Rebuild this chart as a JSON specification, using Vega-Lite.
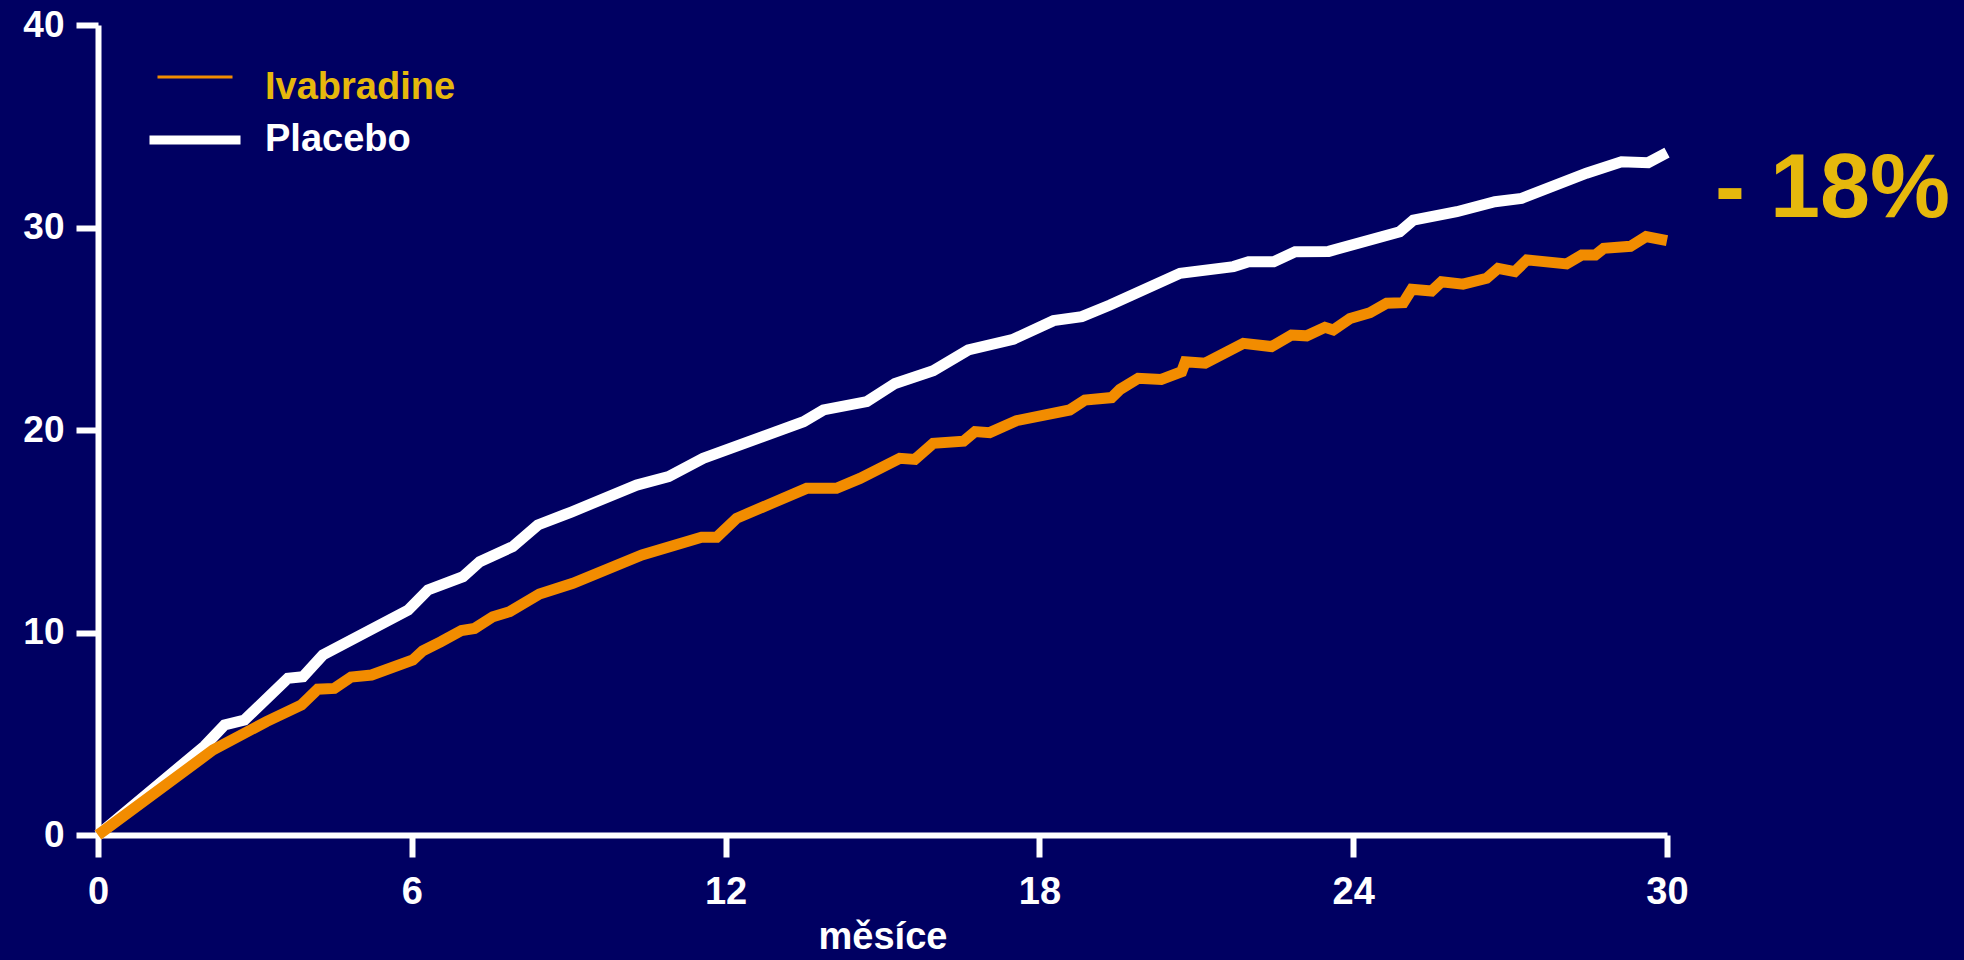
{
  "$schema": "https://vega.github.io/schema/vega-lite/v6.json",
  "width": 1569,
  "height": 810,
  "autosize": {"type": "none"},
  "padding": {"left": 98, "top": 25, "right": 297, "bottom": 125},
  "background": "#000062",
  "config": {
    "view": {"stroke": null},
    "font": "Liberation Sans",
    "axis": {
      "domainColor": "white", "domainWidth": 6, "tickColor": "white", "tickWidth": 6, "tickSize": 22,
      "labelColor": "white", "labelFontWeight": "bold", "labelFont": "Liberation Sans", "grid": false,
      "titleColor": "white", "titleFont": "Liberation Sans", "titleFontWeight": "bold"
    }
  },
  "datasets": {
    "curves": [
      {"series": "Placebo", "month": 0, "rate": 0},
      {"series": "Placebo", "month": 2.04, "rate": 4.4},
      {"series": "Placebo", "month": 2.42, "rate": 5.43},
      {"series": "Placebo", "month": 2.8, "rate": 5.68},
      {"series": "Placebo", "month": 3.63, "rate": 7.74},
      {"series": "Placebo", "month": 3.92, "rate": 7.82},
      {"series": "Placebo", "month": 4.3, "rate": 8.89},
      {"series": "Placebo", "month": 5.93, "rate": 11.11},
      {"series": "Placebo", "month": 6.31, "rate": 12.1},
      {"series": "Placebo", "month": 6.98, "rate": 12.76},
      {"series": "Placebo", "month": 7.3, "rate": 13.5},
      {"series": "Placebo", "month": 7.93, "rate": 14.24},
      {"series": "Placebo", "month": 8.41, "rate": 15.31},
      {"series": "Placebo", "month": 9.05, "rate": 15.95},
      {"series": "Placebo", "month": 10.3, "rate": 17.28},
      {"series": "Placebo", "month": 10.91, "rate": 17.7},
      {"series": "Placebo", "month": 11.57, "rate": 18.6},
      {"series": "Placebo", "month": 13.49, "rate": 20.41},
      {"series": "Placebo", "month": 13.87, "rate": 20.99},
      {"series": "Placebo", "month": 14.7, "rate": 21.4},
      {"series": "Placebo", "month": 15.24, "rate": 22.3},
      {"series": "Placebo", "month": 15.97, "rate": 22.93},
      {"series": "Placebo", "month": 16.64, "rate": 23.95},
      {"series": "Placebo", "month": 17.5, "rate": 24.48},
      {"series": "Placebo", "month": 18.27, "rate": 25.4},
      {"series": "Placebo", "month": 18.81, "rate": 25.6},
      {"series": "Placebo", "month": 19.35, "rate": 26.17},
      {"series": "Placebo", "month": 20.69, "rate": 27.74},
      {"series": "Placebo", "month": 21.71, "rate": 28.07},
      {"series": "Placebo", "month": 22.0, "rate": 28.31},
      {"series": "Placebo", "month": 22.48, "rate": 28.31},
      {"series": "Placebo", "month": 22.89, "rate": 28.8},
      {"series": "Placebo", "month": 23.53, "rate": 28.82},
      {"series": "Placebo", "month": 24.89, "rate": 29.79},
      {"series": "Placebo", "month": 25.15, "rate": 30.37},
      {"series": "Placebo", "month": 25.98, "rate": 30.78},
      {"series": "Placebo", "month": 26.71, "rate": 31.27},
      {"series": "Placebo", "month": 27.22, "rate": 31.44},
      {"series": "Placebo", "month": 28.46, "rate": 32.68},
      {"series": "Placebo", "month": 29.13, "rate": 33.25},
      {"series": "Placebo", "month": 29.64, "rate": 33.2},
      {"series": "Placebo", "month": 30, "rate": 33.7},
      {"series": "Ivabradine", "month": 0, "rate": 0},
      {"series": "Ivabradine", "month": 2.2, "rate": 4.2},
      {"series": "Ivabradine", "month": 3.22, "rate": 5.6},
      {"series": "Ivabradine", "month": 3.89, "rate": 6.42},
      {"series": "Ivabradine", "month": 4.2, "rate": 7.2},
      {"series": "Ivabradine", "month": 4.52, "rate": 7.24},
      {"series": "Ivabradine", "month": 4.84, "rate": 7.8},
      {"series": "Ivabradine", "month": 5.23, "rate": 7.9},
      {"series": "Ivabradine", "month": 6.02, "rate": 8.64},
      {"series": "Ivabradine", "month": 6.21, "rate": 9.1},
      {"series": "Ivabradine", "month": 6.56, "rate": 9.55},
      {"series": "Ivabradine", "month": 6.95, "rate": 10.1},
      {"series": "Ivabradine", "month": 7.2, "rate": 10.2},
      {"series": "Ivabradine", "month": 7.55, "rate": 10.78},
      {"series": "Ivabradine", "month": 7.87, "rate": 11.03},
      {"series": "Ivabradine", "month": 8.44, "rate": 11.9},
      {"series": "Ivabradine", "month": 9.08, "rate": 12.43},
      {"series": "Ivabradine", "month": 10.4, "rate": 13.83},
      {"series": "Ivabradine", "month": 11.54, "rate": 14.7},
      {"series": "Ivabradine", "month": 11.83, "rate": 14.7},
      {"series": "Ivabradine", "month": 12.21, "rate": 15.64},
      {"series": "Ivabradine", "month": 13.55, "rate": 17.12},
      {"series": "Ivabradine", "month": 14.12, "rate": 17.12},
      {"series": "Ivabradine", "month": 14.57, "rate": 17.61},
      {"series": "Ivabradine", "month": 15.33, "rate": 18.6},
      {"series": "Ivabradine", "month": 15.62, "rate": 18.55},
      {"series": "Ivabradine", "month": 15.97, "rate": 19.34},
      {"series": "Ivabradine", "month": 16.55, "rate": 19.45},
      {"series": "Ivabradine", "month": 16.77, "rate": 19.92},
      {"series": "Ivabradine", "month": 17.05, "rate": 19.87},
      {"series": "Ivabradine", "month": 17.56, "rate": 20.46},
      {"series": "Ivabradine", "month": 18.58, "rate": 20.99},
      {"series": "Ivabradine", "month": 18.87, "rate": 21.48},
      {"series": "Ivabradine", "month": 19.38, "rate": 21.6},
      {"series": "Ivabradine", "month": 19.54, "rate": 22.0},
      {"series": "Ivabradine", "month": 19.89, "rate": 22.55},
      {"series": "Ivabradine", "month": 20.33, "rate": 22.5},
      {"series": "Ivabradine", "month": 20.72, "rate": 22.88},
      {"series": "Ivabradine", "month": 20.79, "rate": 23.37},
      {"series": "Ivabradine", "month": 21.17, "rate": 23.3},
      {"series": "Ivabradine", "month": 21.9, "rate": 24.28},
      {"series": "Ivabradine", "month": 22.44, "rate": 24.12},
      {"series": "Ivabradine", "month": 22.82, "rate": 24.69},
      {"series": "Ivabradine", "month": 23.11, "rate": 24.65},
      {"series": "Ivabradine", "month": 23.46, "rate": 25.07},
      {"series": "Ivabradine", "month": 23.62, "rate": 24.94},
      {"series": "Ivabradine", "month": 23.94, "rate": 25.51},
      {"series": "Ivabradine", "month": 24.32, "rate": 25.79},
      {"series": "Ivabradine", "month": 24.64, "rate": 26.26},
      {"series": "Ivabradine", "month": 24.96, "rate": 26.29},
      {"series": "Ivabradine", "month": 25.12, "rate": 26.95},
      {"series": "Ivabradine", "month": 25.5, "rate": 26.86},
      {"series": "Ivabradine", "month": 25.69, "rate": 27.32},
      {"series": "Ivabradine", "month": 26.1, "rate": 27.2},
      {"series": "Ivabradine", "month": 26.55, "rate": 27.49},
      {"series": "Ivabradine", "month": 26.77, "rate": 27.98},
      {"series": "Ivabradine", "month": 27.09, "rate": 27.82},
      {"series": "Ivabradine", "month": 27.32, "rate": 28.4},
      {"series": "Ivabradine", "month": 28.08, "rate": 28.2},
      {"series": "Ivabradine", "month": 28.37, "rate": 28.64},
      {"series": "Ivabradine", "month": 28.63, "rate": 28.64},
      {"series": "Ivabradine", "month": 28.79, "rate": 28.97},
      {"series": "Ivabradine", "month": 29.3, "rate": 29.07},
      {"series": "Ivabradine", "month": 29.6, "rate": 29.55},
      {"series": "Ivabradine", "month": 30, "rate": 29.35}
    ],
    "note": [{"month": 30, "rate": 30.5, "label": "- 18%"}]
  },
  "layer": [
    {
      "data": {"name": "curves"},
      "transform": [{"filter": "datum.series === 'Placebo'"}],
      "mark": {"type": "line", "strokeWidth": 11, "clip": false},
      "encoding": {
        "x": {"field": "month", "type": "quantitative",
          "scale": {"domain": [0, 30], "nice": false},
          "axis": {"values": [0, 6, 12, 18, 24, 30], "labelFontSize": 38, "labelPadding": 16, "labelFlush": false,
            "title": "měsíce", "titleFontSize": 38, "titlePadding": 7}},
        "y": {"field": "rate", "type": "quantitative",
          "scale": {"domain": [0, 40], "nice": false},
          "axis": {"values": [0, 10, 20, 30, 40], "labelFontSize": 37, "labelPadding": 12, "title": null}},
        "color": {"field": "series", "type": "nominal",
          "scale": {"domain": ["Ivabradine", "Placebo"], "range": ["#F28C00", "#FFFFFF"]},
          "legend": {
            "title": null, "orient": "none", "legendX": 78, "legendY": 44, "padding": 0,
            "symbolType": "stroke", "symbolSize": 8281, "symbolStrokeWidth": 8,
            "labelFontSize": 38, "labelFontWeight": "bold", "labelFont": "Liberation Sans", "labelOffset": 51, "labelLimit": 500, "rowPadding": 14,
            "encode": {
              "symbols": {"update": {
                "strokeWidth": {"signal": "datum.value === 'Ivabradine' ? 3 : 9"},
                "size": {"signal": "datum.value === 'Ivabradine' ? 5625 : 8281"},
                "stroke": {"signal": "datum.value === 'Ivabradine' ? '#F5A03A' : '#FFFFFF'"},
                "y": {"signal": "datum.value === 'Ivabradine' ? 8 : 19"}
              }},
              "labels": {"update": {
                "fill": {"signal": "datum.value === 'Ivabradine' ? '#E6B80C' : '#FFFFFF'"}
              }}
            }
          }}
      }
    },
    {
      "data": {"name": "curves"},
      "transform": [{"filter": "datum.series === 'Ivabradine'"}],
      "mark": {"type": "line", "strokeWidth": 11, "clip": false},
      "encoding": {
        "x": {"field": "month", "type": "quantitative"},
        "y": {"field": "rate", "type": "quantitative"},
        "color": {"field": "series", "type": "nominal"}
      }
    },
    {
      "data": {"name": "note"},
      "mark": {"type": "text", "align": "left", "baseline": "alphabetic", "dx": 48, "fontSize": 90, "fontWeight": "bold", "font": "Liberation Sans", "color": "#E6B80C"},
      "encoding": {
        "x": {"field": "month", "type": "quantitative"},
        "y": {"field": "rate", "type": "quantitative"},
        "text": {"field": "label"}
      }
    }
  ]
}
